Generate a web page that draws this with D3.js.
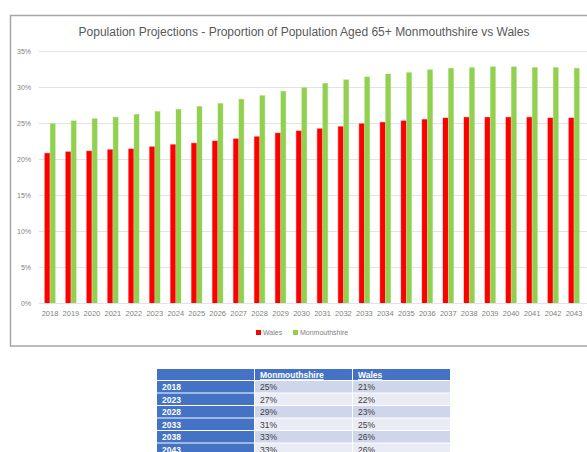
<!DOCTYPE html>
<html>
<head>
<meta charset="utf-8">
<script src="https://cdn.jsdelivr.net/npm/d3@7"></script>
<style>
  body { margin: 0; background: #fff; }
  svg { display: block; font-family: "Liberation Sans", Arial, sans-serif; }
</style>
</head>
<body>
<div id="chart"></div>
<script>
// chart data
const years = ["2018","2019","2020","2021","2022","2023","2024","2025","2026","2027","2028","2029","2030",
               "2031","2032","2033","2034","2035","2036","2037","2038","2039","2040","2041","2042","2043"];
const wales = [20.8, 21.0, 21.1, 21.3, 21.4, 21.7, 22.0, 22.2, 22.5, 22.8, 23.1, 23.6, 23.9,
               24.2, 24.5, 24.9, 25.1, 25.3, 25.5, 25.7, 25.8, 25.8, 25.8, 25.8, 25.7, 25.7];
const monmouthshire = [24.9, 25.3, 25.6, 25.8, 26.2, 26.6, 26.9, 27.3, 27.7, 28.3, 28.8, 29.4, 29.9,
                       30.5, 31.0, 31.4, 31.8, 32.0, 32.4, 32.6, 32.7, 32.8, 32.8, 32.7, 32.7, 32.6];
const yTicks = [0, 5, 10, 15, 20, 25, 30, 35];
const seriesNames = ["Wales", "Monmouthshire"];
const seriesColors = ["#ff0000", "#92d050"];

// summary table under the chart
const tableHeader = ["", "Monmouthshire", "Wales"];
const tableYears = ["2018", "2023", "2028", "2033", "2038", "2043"];
const tableMon = ["25%", "27%", "29%", "31%", "33%", "33%"];
const tableWales = ["21%", "22%", "23%", "25%", "26%", "26%"];

const width = 587, height = 452;

const svg = d3.select("#chart").append("svg")
    .attr("width", width)
    .attr("height", height);

// chart frame
svg.append("rect")
    .attr("x", 10.5).attr("y", 15.5)
    .attr("width", 600).attr("height", 330.5)
    .attr("fill", "#fff")
    .attr("stroke", "#a6a6a6")
    .attr("stroke-width", 1.5);

svg.append("text")
    .attr("x", 304).attr("y", 36)
    .attr("text-anchor", "middle")
    .attr("fill", "#595959")
    .style("font-size", "12px")
    .text("Population Projections - Proportion of Population Aged 65+ Monmouthshire vs Wales");

const x = d3.scaleBand()
    .domain(years)
    .range([39.5, 584.5])
    .paddingInner(0.5)
    .paddingOuter(0.25);

const xSub = d3.scaleBand()
    .domain(seriesNames)
    .range([0, x.bandwidth()])
    .paddingInner(0.1);

const y = d3.scaleLinear()
    .domain([0, 35])
    .range([303, 51]);

// gridlines + y labels
const yAxis = d3.axisLeft(y)
    .tickValues(yTicks)
    .tickSize(-(600 - 39))
    .tickFormat(d => d + "%");

const gy = svg.append("g")
    .attr("transform", "translate(39,0)")
    .call(yAxis);
gy.select(".domain").remove();
gy.selectAll(".tick line").attr("stroke", "#e3e3e3");
gy.selectAll(".tick text")
    .attr("x", -8)
    .attr("fill", "#7f7f7f")
    .style("font-size", "7px");

// bars
const groups = svg.append("g").selectAll("g")
    .data(years)
    .join("g")
    .attr("transform", d => `translate(${x(d)},0)`);

groups.selectAll("rect")
    .data((d, i) => [
        {name: "Wales", value: wales[i]},
        {name: "Monmouthshire", value: monmouthshire[i]}
    ])
    .join("rect")
    .attr("x", d => xSub(d.name))
    .attr("y", d => y(d.value))
    .attr("width", xSub.bandwidth())
    .attr("height", d => y(0) - y(d.value))
    .attr("fill", d => seriesColors[seriesNames.indexOf(d.name)])
    .attr("stroke", d => seriesColors[seriesNames.indexOf(d.name)])
    .attr("stroke-opacity", 0.35)
    .attr("stroke-width", 1);

// x axis labels
const xAxis = d3.axisBottom(x).tickSize(0).tickPadding(8);
const gx = svg.append("g")
    .attr("transform", "translate(0,303)")
    .call(xAxis);
gx.select(".domain").attr("stroke", "#e3e3e3");
gx.selectAll(".tick text")
    .attr("fill", "#7f7f7f")
    .style("font-size", "7.5px");

// legend
const legendPos = [256, 293];
const legend = svg.append("g").selectAll("g")
    .data(seriesNames)
    .join("g")
    .attr("transform", (d, i) => `translate(${legendPos[i]},330)`);
legend.append("rect")
    .attr("width", 5).attr("height", 5)
    .attr("fill", (d, i) => seriesColors[i]);
legend.append("text")
    .attr("x", 7).attr("y", 5)
    .attr("fill", "#7f7f7f")
    .style("font-size", "7px")
    .text(d => d);

// table
const colX = [157, 255, 353, 451];
const headerTop = 369, headerH = 12, rowH = 12.5;
const tableRows = tableYears.map((yr, i) => [yr, tableMon[i], tableWales[i]]);

const tg = svg.append("g");
tableHeader.forEach((h, c) => {
    tg.append("rect")
        .attr("x", colX[c]).attr("y", headerTop)
        .attr("width", colX[c + 1] - colX[c] - 1).attr("height", headerH - 1)
        .attr("fill", "#4472c4");
    tg.append("text")
        .attr("x", colX[c] + 5).attr("y", headerTop + 9)
        .attr("fill", "#fff")
        .style("font-size", "8.5px")
        .style("font-weight", "bold")
        .style("text-decoration", "underline")
        .text(h);
});

tableRows.forEach((row, r) => {
    const top = headerTop + headerH + r * rowH;
    row.forEach((val, c) => {
        tg.append("rect")
            .attr("x", colX[c]).attr("y", top)
            .attr("width", colX[c + 1] - colX[c] - 1).attr("height", rowH - 1)
            .attr("fill", c === 0 ? "#4472c4" : (r % 2 === 0 ? "#cfd5ea" : "#e9ebf5"));
        tg.append("text")
            .attr("x", colX[c] + 5).attr("y", top + 9)
            .attr("fill", c === 0 ? "#fff" : "#404040")
            .style("font-size", "8.5px")
            .style("font-weight", c === 0 ? "bold" : "normal")
            .text(val);
    });
});
</script>
</body>
</html>
